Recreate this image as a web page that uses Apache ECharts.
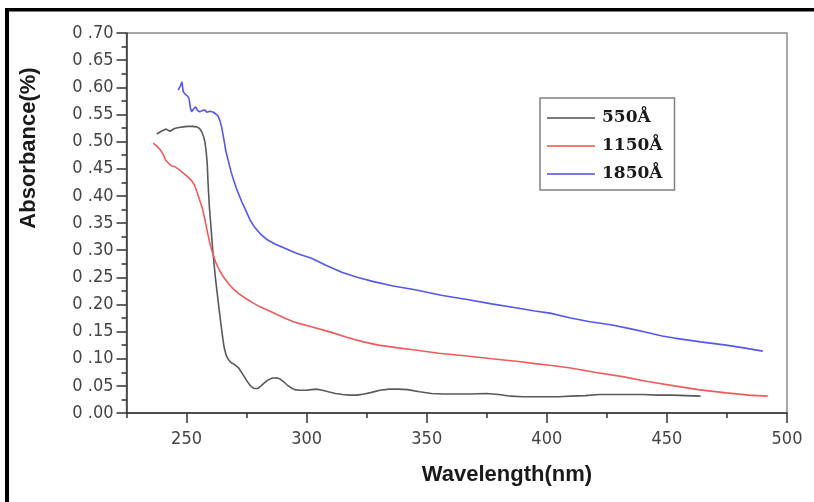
<!DOCTYPE html>
<html>
<head>
<meta charset="utf-8">
<script src="https://cdn.jsdelivr.net/npm/echarts@6/dist/echarts.min.js"></script>
<style>
html,body{margin:0;padding:0;background:#fff;}
#chart{width:814px;height:502px;}
</style>
</head>
<body>
<div id="chart"></div>
<script>
// ---- data ----
var seriesNames = ['550Å', '1150Å', '1850Å'];

var wl550 = [237.6,239.5,241.5,243.1,245,246.8,248.6,250.5,252.5,254.2,255.4,256.3,257.2,257.7,258.2,258.6,259,259.5,260,260.9,262,263.1,264,264.8,265.6,266.5,267.5,268.5,270,271.7,273.3,275,276.6,278.2,279.5,281,282.5,284,285.5,287.3,288.8,290.3,291.8,293.3,295,297,300,302,304.1,306.5,309,312,315,318,321,324,327,330.5,334.5,338,342,347,352,357,362,368,375,380,385,390,395,400,405,410,416,422,428,434,440,446,452,458,464];
var abs550 = [0.514,0.519,0.523,0.519,0.524,0.526,0.527,0.528,0.528,0.527,0.524,0.518,0.508,0.498,0.480,0.460,0.420,0.380,0.352,0.300,0.250,0.208,0.175,0.147,0.122,0.106,0.098,0.093,0.089,0.083,0.072,0.060,0.050,0.045,0.045,0.050,0.056,0.061,0.064,0.065,0.063,0.058,0.052,0.047,0.043,0.042,0.042,0.043,0.044,0.042,0.039,0.036,0.034,0.033,0.033,0.035,0.038,0.042,0.044,0.044,0.043,0.039,0.036,0.035,0.035,0.035,0.036,0.034,0.031,0.030,0.030,0.030,0.030,0.031,0.032,0.034,0.034,0.034,0.034,0.033,0.033,0.032,0.031];

var wl1150 = [236.1,237.5,239.2,240.3,241.3,242.5,243.8,245,246,247.3,248.6,250.3,252.1,253.3,254.3,255.4,256.6,257.7,258.8,259.8,260.9,262.3,263.8,265.3,267.5,269.6,271.7,275,278,280.4,285,291.2,296,302,310,317,323.6,330,338,345.2,355,366.8,377,388.3,395,401.3,409.9,420,431.5,442,453.1,463,474.7,484,492];
var abs1150 = [0.497,0.492,0.484,0.476,0.466,0.460,0.455,0.454,0.451,0.447,0.442,0.436,0.428,0.420,0.408,0.393,0.377,0.355,0.331,0.311,0.294,0.276,0.262,0.251,0.238,0.228,0.220,0.210,0.202,0.196,0.187,0.174,0.166,0.159,0.149,0.139,0.131,0.125,0.120,0.116,0.110,0.105,0.100,0.095,0.091,0.088,0.083,0.075,0.067,0.058,0.050,0.043,0.037,0.033,0.031];

var wl1850 = [246.5,247.4,248.1,248.6,249.3,250,250.6,251.1,251.6,252.1,252.9,253.8,254.6,255.5,256.5,257.7,258.4,259.1,259.8,260.5,261.2,262,263,263.8,264.6,265.5,266.3,267.3,268.5,269.6,271,272.9,275,276.5,278.2,280.5,283.6,287,291.2,296,302,308,314.9,321,327.9,336,345.2,356,366.8,377,388.3,395,401.3,409.9,418,427.2,435,442.3,448,453.1,464,474.7,482,489.9];
var abs1850 = [0.595,0.602,0.610,0.592,0.588,0.585,0.583,0.578,0.562,0.555,0.560,0.564,0.557,0.555,0.557,0.558,0.554,0.553,0.556,0.558,0.554,0.551,0.548,0.540,0.527,0.505,0.484,0.466,0.445,0.429,0.411,0.390,0.370,0.355,0.343,0.331,0.319,0.311,0.303,0.294,0.285,0.272,0.259,0.250,0.242,0.234,0.227,0.217,0.209,0.201,0.193,0.188,0.184,0.175,0.168,0.162,0.155,0.148,0.142,0.138,0.131,0.125,0.120,0.114];

var xLabelValues = [250, 300, 350, 400, 450, 500];
var xTitle = 'Wavelength(nm)';
var yTitle = 'Absorbance(%)';

function pairs(xs, ys) { return xs.map(function (x, i) { return [x, ys[i]]; }); }

var colors = ['#595959', '#ef5b5b', '#5656ec'];
var narrow = "'Liberation Sans Narrow', 'DejaVu Sans Condensed', 'Liberation Sans', sans-serif";

var chart = echarts.init(document.getElementById('chart'), null, {renderer: 'canvas'});
chart.setOption({
  backgroundColor: '#ffffff',
  animation: false,
  color: colors,
  grid: {left: 126.5, right: 27, top: 33, bottom: 89, show: true, borderColor: '#8a8a8a', borderWidth: 1.5, backgroundColor: 'transparent'},
  legend: {
    orient: 'vertical',
    left: 540, top: 98,
    data: seriesNames,
    itemWidth: 48, itemHeight: 2, itemGap: 8,
    padding: [10, 12, 6, 7],
    borderColor: '#808080', borderWidth: 1.5,
    backgroundColor: '#fff',
    icon: 'rect',
    itemStyle: {borderWidth: 0, opacity: 0.8},
    textStyle: {fontFamily: "'DejaVu Serif', 'Liberation Serif', serif", fontWeight: 'bold', fontSize: 17, lineHeight: 20, color: '#1a1a1a', padding: [0,0,0,2]}
  },
  xAxis: [{
    type: 'value', min: 225, max: 500, interval: 25,
    axisLine: {show: true, lineStyle: {color: '#333', width: 1.5}},
    axisTick: {show: true, customValues: xLabelValues, length: 10, lineStyle: {color: '#333', width: 1.5}},
    axisLabel: {customValues: xLabelValues, margin: 17, fontFamily: narrow, fontSize: 18, color: '#444'},
    splitLine: {show: false}
  }, {
    type: 'value', min: 225, max: 500, interval: 25, position: 'bottom',
    axisLine: {show: false},
    axisTick: {show: true, length: 5, lineStyle: {color: '#333', width: 1.5}},
    axisLabel: {show: false},
    splitLine: {show: false}
  }],
  yAxis: {
    type: 'value', min: 0, max: 0.7, interval: 0.05,
    axisLine: {show: true, lineStyle: {color: '#333', width: 1.5}},
    axisTick: {show: true, length: 10, lineStyle: {color: '#333', width: 1.5}},
    minorTick: {show: true, splitNumber: 2, length: 5, lineStyle: {color: '#333', width: 1.5}},
    axisLabel: {
      margin: 13, fontFamily: narrow, fontSize: 18, color: '#444',
      formatter: function (v) { return '0 .' + String(Math.round(v * 100)).padStart(2, '0'); }
    },
    splitLine: {show: false}
  },
  series: [
    {name: seriesNames[0], type: 'line', symbol: 'none', data: pairs(wl550, abs550), lineStyle: {width: 1.6, color: colors[0]}, itemStyle: {color: colors[0]}},
    {name: seriesNames[1], type: 'line', symbol: 'none', data: pairs(wl1150, abs1150), lineStyle: {width: 1.6, color: colors[1]}, itemStyle: {color: colors[1]}},
    {name: seriesNames[2], type: 'line', symbol: 'none', data: pairs(wl1850, abs1850), lineStyle: {width: 1.6, color: colors[2]}, itemStyle: {color: colors[2]}}
  ],
  graphic: [
    {type: 'rect', shape: {x: 5, y: 8, width: 809, height: 3.5}, style: {fill: '#000'}, silent: true},
    {type: 'rect', shape: {x: 5, y: 8, width: 4, height: 494}, style: {fill: '#000'}, silent: true},
    {type: 'text', x: 507, y: 475, style: {text: xTitle, fontFamily: "'Liberation Sans', Arial, sans-serif", fontWeight: 'bold', fontSize: 22, fill: '#1a1a1a', align: 'center', verticalAlign: 'middle'}},
    {type: 'text', x: 29, y: 148, rotation: Math.PI / 2, style: {text: yTitle, fontFamily: "'Liberation Sans', Arial, sans-serif", fontWeight: 'bold', fontSize: 22, fill: '#1a1a1a', align: 'center', verticalAlign: 'middle'}}
  ]
});
</script>
</body>
</html>
